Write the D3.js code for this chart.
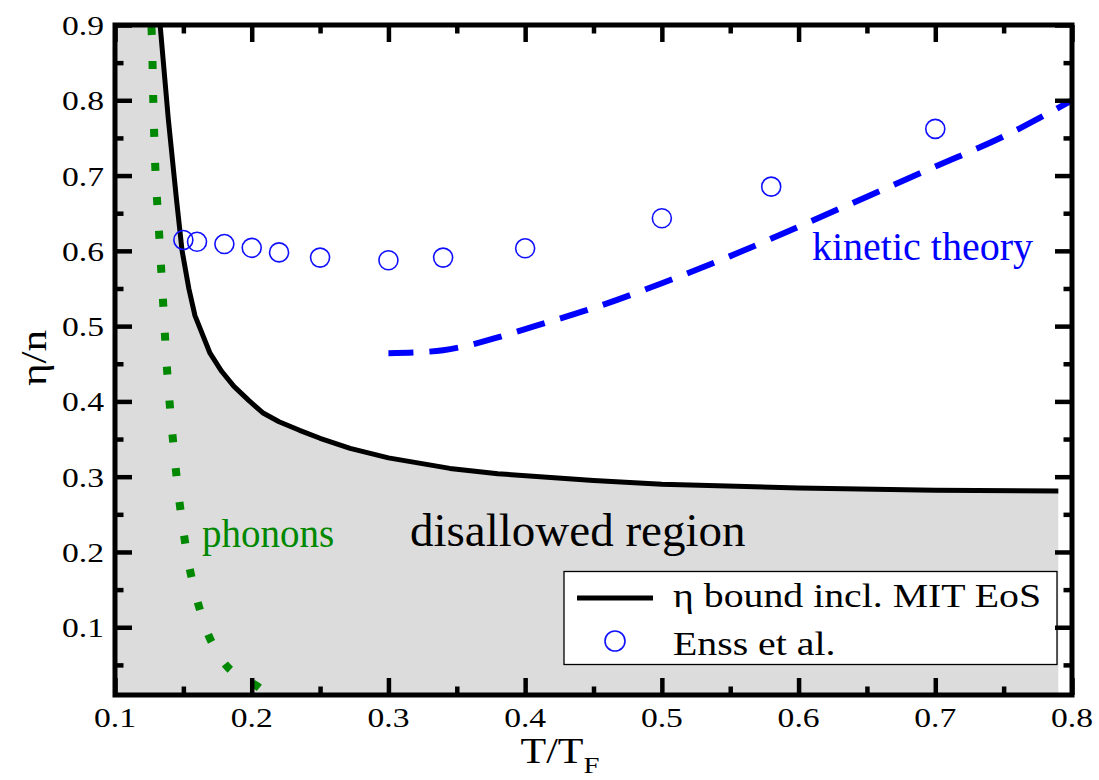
<!DOCTYPE html>
<html><head><meta charset="utf-8">
<script src="https://cdn.jsdelivr.net/npm/d3@7"></script>
<style>
html,body{margin:0;padding:0;background:#fff;}
svg{display:block;font-family:"Liberation Serif","Times New Roman",serif;}
</style></head>
<body><svg id="chart" width="1099" height="780"></svg>
<script>
// ---- data ----
const boundT   = [0.133,0.139,0.145,0.149,0.154,0.1585,0.1695,0.178,0.187,0.198,0.208,0.22,0.235,0.25,0.272,0.30,0.345,0.38,0.45,0.50,0.60,0.70,0.79];
const boundEta = [0.900,0.775,0.668,0.601,0.550,0.514,0.464,0.440,0.420,0.401,0.385,0.373,0.3616,0.351,0.3377,0.325,0.311,0.304,0.295,0.290,0.285,0.282,0.281];

const phononT   = [0.1266,0.1268,0.128,0.1295,0.1324,0.1353,0.1383,0.1426,0.148,0.1563,0.1627,0.1717,0.1866,0.2073,0.2085];
const phononEta = [0.900,0.892,0.800,0.710,0.619,0.528,0.4365,0.345,0.2546,0.164,0.120,0.077,0.040,0.016,0.010];

const kineticT   = [0.30,0.32,0.34,0.36,0.38,0.40,0.42,0.45,0.50,0.55,0.60,0.65,0.70,0.75,0.80];
const kineticEta = [0.464,0.465,0.468,0.475,0.485,0.496,0.507,0.524,0.557,0.593,0.632,0.672,0.712,0.752,0.800];

const enssT   = [0.15,0.16,0.18,0.20,0.22,0.25,0.30,0.34,0.40,0.50,0.58,0.70];
const enssEta = [0.6145,0.612,0.609,0.604,0.598,0.591,0.5875,0.591,0.6034,0.6433,0.6853,0.762];

const xMajor = [0.1,0.2,0.3,0.4,0.5,0.6,0.7,0.8];
const xMinor = [0.15,0.25,0.35,0.45,0.55,0.65,0.75];
const yMajor = [0.1,0.2,0.3,0.4,0.5,0.6,0.7,0.8,0.9];
const yMinor = [0.05,0.15,0.25,0.35,0.45,0.55,0.65,0.75,0.85];
const legendLabels = ["η bound incl. MIT EoS","Enss et al."];

// ---- layout ----
const L=115,R=1072,T=25,B=695;
const svg=d3.select("#chart");
const x=d3.scaleLinear().domain([0.1,0.8]).range([L,R]);
const y=d3.scaleLinear().domain([0.01,0.9]).range([B,T]);

svg.append("defs").append("clipPath").attr("id","clip")
  .append("rect").attr("x",L).attr("y",T).attr("width",R-L).attr("height",B-T);
const plot=svg.append("g").attr("clip-path","url(#clip)");

const bound=boundT.map((t,i)=>[t,boundEta[i]]);
const area=[[0.1,0.01],[0.1,0.9]].concat(bound).concat([[0.79,0.01]]);
plot.append("path")
  .attr("d",d3.line().x(d=>x(d[0])).y(d=>y(d[1]))(area)+"Z")
  .attr("fill","#dcdcdc");

plot.append("path")
  .attr("d",d3.line().x(d=>x(d[0])).y(d=>y(d[1]))(bound))
  .attr("fill","none").attr("stroke","#000").attr("stroke-width",5).attr("stroke-linejoin","round");

plot.append("path")
  .attr("d",d3.line().curve(d3.curveMonotoneY).x(d=>x(d[0])).y(d=>y(d[1]))(phononT.map((t,i)=>[t,phononEta[i]])))
  .attr("fill","none").attr("stroke","#008800").attr("stroke-width",8)
  .attr("stroke-dasharray","8 26").attr("stroke-dashoffset",-2);

plot.append("path")
  .attr("d",d3.line().curve(d3.curveMonotoneX).x(d=>x(d[0])).y(d=>y(d[1]))(kineticT.map((t,i)=>[t,kineticEta[i]])))
  .attr("fill","none").attr("stroke","#0000ff").attr("stroke-width",6)
  .attr("stroke-dasharray","29 16").attr("stroke-dashoffset",4);

plot.selectAll("circle.enss").data(enssT.map((t,i)=>[t,enssEta[i]])).join("circle")
  .attr("class","enss").attr("cx",d=>x(d[0])).attr("cy",d=>y(d[1])).attr("r",9.5)
  .attr("fill","none").attr("stroke","#1010ff").attr("stroke-width",1.6);

// annotations
svg.append("text").attr("x",202).attr("y",547).attr("font-size",39).attr("fill","#008800").text("phonons");
svg.append("text").attr("x",812).attr("y",260).attr("font-size",40).attr("fill","#0000ff").text("kinetic theory");
svg.append("text").attr("x",410).attr("y",546).attr("font-size",47).attr("fill","#000").text("disallowed region");

// legend
const lg=svg.append("g");
lg.append("rect").attr("x",564).attr("y",571.5).attr("width",493).attr("height",93)
  .attr("fill","#fff").attr("stroke","#000").attr("stroke-width",1.3);
lg.append("line").attr("x1",577).attr("x2",653).attr("y1",598).attr("y2",598).attr("stroke","#000").attr("stroke-width",5);
lg.append("circle").attr("cx",615).attr("cy",641).attr("r",10).attr("fill","none").attr("stroke","#1010ff").attr("stroke-width",1.6);
lg.selectAll("text").data(legendLabels).join("text")
  .attr("transform",(d,i)=>`translate(673,${i?655:607}) scale(1.17,1)`)
  .attr("font-size",34).text(d=>d);

// axes (ticks inward)
function ticks(axis,tr,vals,size){
  const g=svg.append("g").attr("transform",tr);
  g.call(axis.tickValues(vals).tickSize(-size).tickSizeOuter(0).tickFormat(""));
  g.select(".domain").remove();
  g.selectAll(".tick line").attr("stroke","#000").attr("stroke-width",4.5);
}
ticks(d3.axisBottom(x),`translate(0,${B})`,xMajor,17);
ticks(d3.axisBottom(x),`translate(0,${B})`,xMinor,8.5);
ticks(d3.axisTop(x),`translate(0,${T})`,xMajor,17);
ticks(d3.axisTop(x),`translate(0,${T})`,xMinor,8.5);
ticks(d3.axisLeft(y),`translate(${L},0)`,yMajor,17);
ticks(d3.axisLeft(y),`translate(${L},0)`,yMinor,8.5);
ticks(d3.axisRight(y),`translate(${R},0)`,yMajor,17);
ticks(d3.axisRight(y),`translate(${R},0)`,yMinor,8.5);

svg.append("rect").attr("x",L).attr("y",T).attr("width",R-L).attr("height",B-T)
  .attr("fill","none").attr("stroke","#000").attr("stroke-width",5);

// tick labels
const fmt=d3.format(".1f");
svg.selectAll("text.xl").data(xMajor).join("text").attr("class","xl")
  .attr("transform",d=>`translate(${x(d)},727) scale(1.2,1)`)
  .attr("text-anchor","middle").attr("font-size",28).text(fmt);
svg.selectAll("text.yl").data(yMajor).join("text").attr("class","yl")
  .attr("transform",d=>`translate(104,${y(d)+10}) scale(1.2,1)`)
  .attr("text-anchor","end").attr("font-size",28).text(fmt);

// axis titles
const xt=svg.append("text").attr("transform","translate(560,763) scale(1.2,1)")
  .attr("text-anchor","middle").attr("font-size",35);
xt.append("tspan").text("T/T");
xt.append("tspan").attr("font-size",24).attr("dy",10).text("F");
svg.append("text").attr("transform","translate(46,358) rotate(-90) scale(1.2,1)")
  .attr("text-anchor","middle").attr("font-size",36).text("η/n");
</script></body></html>
